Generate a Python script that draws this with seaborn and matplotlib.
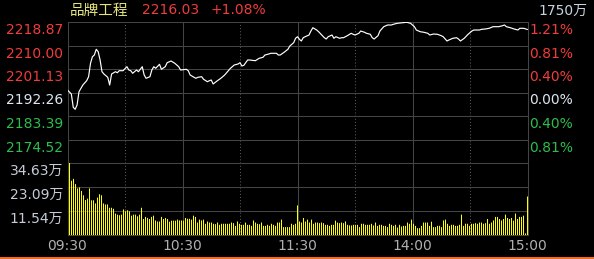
import numpy as np
import pandas as pd
import matplotlib
matplotlib.use("Agg")
import matplotlib.pyplot as plt
import matplotlib.transforms as mtransforms
from matplotlib.patches import Rectangle
import seaborn as sns

# ---------------- data ----------------
title_name = "品牌工程"
title_price = "2216.03"
title_change = "+1.08%"
total_volume_label = "1750万"

session_minutes = 240  # 09:30-11:30 + 13:00-15:00

price_minutes = [0, 2, 3, 4, 5, 6, 8, 10, 11, 12, 13, 14, 15, 16, 17, 18, 19, 21, 22, 23,
                 25, 26, 27, 29, 31, 32, 33, 34, 36, 37, 39, 40, 41, 43, 44, 45, 46, 48, 49, 51,
                 52, 54, 56, 58, 59, 62, 63, 64, 66, 67, 68, 70, 71, 73, 74, 75, 76, 78, 80, 82,
                 83, 85, 87, 89, 90, 91, 92, 94, 95, 98, 100, 102, 103, 105, 106, 109, 110, 111, 113, 115,
                 116, 118, 119, 120, 121, 122, 123, 124, 126, 127, 128, 130, 131, 133, 134, 135, 136, 138, 139, 140,
                 142, 143, 144, 146, 148, 149, 150, 152, 153, 155, 156, 158, 159, 160, 162, 163, 165, 167, 169, 170,
                 172, 175, 177, 179, 181, 182, 184, 186, 188, 189, 191, 193, 195, 196, 198, 199, 201, 203, 204, 205,
                 207, 209, 211, 212, 215, 216, 218, 220, 222, 223, 225, 227, 228, 229, 231, 233, 235, 236, 238, 240]

price_values = [2193.20, 2191.69, 2186.67, 2185.92, 2187.54, 2192.56, 2195.09, 2196.71, 2198.22, 2203.28,
                2205.77, 2206.41, 2208.57, 2207.66, 2204.53, 2200.11, 2199.24, 2198.00, 2195.09, 2199.24,
                2200.11, 2199.73, 2200.49, 2200.49, 2202.00, 2200.75, 2200.49, 2199.51, 2200.75, 2200.11,
                2202.00, 2198.87, 2197.62, 2198.22, 2200.75, 2202.00, 2201.39, 2202.90, 2201.02, 2202.00,
                2203.51, 2204.15, 2203.28, 2202.00, 2200.75, 2201.02, 2200.49, 2198.87, 2198.00, 2197.62,
                2198.00, 2198.22, 2197.24, 2196.34, 2196.71, 2196.98, 2195.47, 2196.60, 2197.62, 2198.87,
                2199.73, 2201.39, 2202.64, 2203.02, 2203.51, 2202.26, 2202.53, 2204.53, 2204.53, 2204.26,
                2205.17, 2205.55, 2206.41, 2206.79, 2207.06, 2207.06, 2206.41, 2206.41, 2207.43, 2208.57,
                2209.81, 2211.06, 2212.72, 2213.32, 2212.34, 2211.70, 2212.94, 2213.32, 2213.96, 2215.47,
                2216.72, 2215.85, 2215.21, 2213.70, 2212.94, 2212.45, 2213.32, 2213.96, 2212.72, 2213.32,
                2212.72, 2212.94, 2212.94, 2213.70, 2214.60, 2214.23, 2213.96, 2214.60, 2215.47, 2214.98,
                2214.60, 2214.23, 2212.94, 2212.45, 2213.70, 2215.47, 2217.10, 2217.74, 2217.74, 2218.00,
                2218.38, 2218.61, 2218.76, 2218.38, 2217.10, 2215.85, 2215.21, 2214.98, 2214.60, 2213.96,
                2214.34, 2214.23, 2213.70, 2213.32, 2211.70, 2212.08, 2212.72, 2212.94, 2212.45, 2211.70,
                2212.72, 2214.23, 2215.47, 2215.85, 2215.85, 2216.11, 2216.23, 2216.49, 2217.10, 2217.10,
                2217.10, 2217.47, 2217.74, 2217.10, 2216.72, 2216.23, 2215.85, 2216.49, 2216.49, 2216.03]

# per-minute volume, in 万
volume_values = [11.4, 34.63, 26.1, 27.0, 24.5, 22.4, 22.9, 21.2, 19.1, 16.8, 17.5, 22.4, 16.7, 16.7, 15.2,
                 18.0, 19.6, 19.1, 15.2, 14.7, 14.7, 13.1, 13.1, 12.6, 10.3, 9.8, 9.5, 9.8, 12.3, 11.4,
                 11.9, 11.4, 9.3, 9.8, 9.8, 9.0, 9.8, 13.1, 7.7, 8.7, 8.2, 7.7, 8.7, 9.3, 7.0,
                 6.5, 6.5, 8.7, 7.7, 8.2, 7.7, 6.4, 6.9, 6.9, 6.9, 7.4, 7.0, 7.0,
                 6.9, 8.2, 7.8, 7.8, 7.4, 9.3, 8.7, 6.0, 7.4, 7.0, 7.4, 5.4, 6.5, 6.0, 6.0,
                 5.4, 5.2, 6.0, 4.9, 5.4, 5.4, 5.4, 5.4, 5.4, 6.0, 5.7, 4.4, 6.5, 5.4, 4.9,
                 4.9, 6.0, 4.9, 4.9, 4.4, 7.0, 6.0, 5.4, 5.2, 6.0, 4.4, 4.4, 4.9, 4.4, 5.4,
                 4.9, 4.4, 6.0, 6.0, 7.4, 3.8, 3.8, 3.8, 3.8, 5.4, 4.9, 5.4, 14.2,
                 6.5, 6.0, 8.2, 6.5, 7.4, 6.0, 7.4, 5.4, 6.0, 6.0, 5.7, 6.0, 5.7, 4.9, 4.9,
                 4.4, 4.9, 4.9, 6.9, 6.0, 5.7, 6.0, 5.7, 6.5, 4.9, 4.6, 4.6, 4.9, 4.9, 4.9,
                 3.8, 5.4, 5.4, 4.9, 4.9, 4.9, 5.4, 4.6, 6.0, 4.4, 4.9, 4.9, 4.4, 4.4, 3.8,
                 5.4, 4.9, 4.4, 4.9, 3.6, 4.9, 4.1, 4.4, 4.4,
                 6.0, 5.4, 7.4, 5.4, 4.4, 3.3, 3.3, 4.4, 6.0, 6.0, 6.0, 4.4, 6.4, 3.8, 3.8,
                 4.4, 4.4, 3.8, 7.0, 7.4, 5.4, 4.4, 4.9, 4.9, 4.4, 4.4, 4.9, 9.8, 4.4, 5.4,
                 5.4, 4.4, 5.4, 5.4, 5.7, 5.4, 6.0, 6.0, 5.4, 5.7, 7.7, 5.4, 6.0, 7.0, 8.7,
                 8.7, 7.7, 7.0, 7.7, 9.8, 8.2, 7.7, 8.2, 6.9, 10.3, 7.7, 8.7, 8.7, 9.3, 0.8, 18.5]

price_top = 2218.87
price_bottom = 2165.65
price_levels = [2218.87, 2210.00, 2201.13, 2192.26, 2183.39, 2174.52]
price_level_labels = ["2218.87", "2210.00", "2201.13", "2192.26", "2183.39", "2174.52"]
pct_labels = ["1.21%", "0.81%", "0.40%", "0.00%", "0.40%", "0.81%"]
volume_top = 34.63
volume_levels = [34.63, 23.09, 11.54]
volume_level_labels = ["34.63万", "23.09万", "11.54万"]
time_ticks = [0, 60, 120, 180, 240]
time_labels = ["09:30", "10:30", "11:30", "14:00", "15:00"]
solid_vlines = [60, 120, 180]
dotted_vlines = [30, 90, 150, 210]

# ---------------- style ----------------
RED = "#f03c3c"
GREEN = "#2dbd4e"
NEUTRAL = "#dde6f0"
level_colors = [RED, RED, RED, NEUTRAL, GREEN, GREEN]
GRID = "#444444"
DOTS = "#5a5a5a"
VOLTXT = "#c6ccd6"
TIMETXT = "#b0b0b0"
BAR = "#ffff00"

sns.set_theme(style="dark", rc={"axes.facecolor": "black", "figure.facecolor": "black",
                                "savefig.facecolor": "black"})
plt.rcParams["font.family"] = ["DejaVu Sans", "Noto Sans CJK SC"]

W, H = 594, 259
X0 = 67.5  # left edge of plot area in pixels
fig = plt.figure(figsize=(W / 100, H / 100), dpi=100)
ax_p = fig.add_axes([X0 / W, (H - 163) / H, 460 / W, 141 / H])
ax_v = fig.add_axes([X0 / W, (H - 235) / H, 460 / W, 72 / H])

price_df = pd.DataFrame({"minute": price_minutes, "price": price_values})
sns.lineplot(data=price_df, x="minute", y="price", color="white", linewidth=0.85, ax=ax_p, zorder=5)

vol_df = pd.DataFrame({"minute": np.linspace(0, session_minutes, len(volume_values)),
                       "volume": volume_values})
sns.barplot(data=vol_df, x="minute", y="volume", native_scale=True, color=BAR,
            saturation=1, width=0.5, linewidth=0, errorbar=None, ax=ax_v,
            snap=False, zorder=5)
for bar in ax_v.patches:
    bar.set_facecolor(BAR)
    bar.set_edgecolor(BAR)
    bar.set_linewidth(0)

for ax in (ax_p, ax_v):
    ax.set_facecolor("black")
    ax.set_xlim(0, session_minutes)
    ax.set_xlabel("")
    ax.set_ylabel("")
    ax.set_xticks(solid_vlines)
    ax.set_xticks(dotted_vlines, minor=True)
    ax.grid(False)
    ax.grid(which="major", axis="both", color=GRID, linewidth=0.75, linestyle="-")
    ax.grid(which="minor", axis="x", color=DOTS, linewidth=0.75, linestyle=(0, (1, 2)))
    ax.tick_params(which="both", length=0, labelbottom=False, labelleft=False)
    for s in ax.spines.values():
        s.set_visible(True)
        s.set_color(GRID)
        s.set_linewidth(0.75)
    ax.set_axisbelow(True)

ax_p.set_ylim(price_bottom, price_top)
ax_p.set_yticks(price_levels[1:])
ax_v.set_ylim(0, volume_top)
ax_v.set_yticks(volume_levels[1:])

FS = 10
left_tr_p = mtransforms.offset_copy(ax_p.get_yaxis_transform(), fig=fig, x=-4.5, y=-1, units="dots")
right_tr_p = mtransforms.offset_copy(ax_p.get_yaxis_transform(), fig=fig, x=1.5, y=-1, units="dots")
for v, lab, pct, c in zip(price_levels, price_level_labels, pct_labels, level_colors):
    ax_p.text(0, v, lab, transform=left_tr_p, ha="right", va="top", color=c, fontsize=FS)
    ax_p.text(1, v, pct, transform=right_tr_p, ha="left", va="top", color=c, fontsize=FS)

left_tr_v = mtransforms.offset_copy(ax_v.get_yaxis_transform(), fig=fig, x=-4.5, y=-1, units="dots")
for v, lab in zip(volume_levels, volume_level_labels):
    ax_v.text(0, v, lab, transform=left_tr_v, ha="right", va="top", color=VOLTXT, fontsize=FS)

time_tr = mtransforms.offset_copy(ax_v.get_xaxis_transform(), fig=fig, x=-0.5, y=-11.5, units="dots")
for t, lab in zip(time_ticks, time_labels):
    ax_v.text(t, 0, lab, transform=time_tr, ha="center", va="center", color=TIMETXT, fontsize=FS)

ty = 1 - 10.5 / H
fig.text(70 / W, ty, title_name, color="#e4e47c", fontsize=10.5, ha="left", va="center")
fig.text(142 / W, ty, title_price, color=RED, fontsize=FS, ha="left", va="center")
fig.text(211 / W, ty, title_change, color=RED, fontsize=FS, ha="left", va="center")
fig.text(587 / W, 1 - 11 / H, total_volume_label, color="#c8d4e0", fontsize=FS, ha="right", va="center")

fig.patches.append(Rectangle((0, 0), 1, 1.6 / H, transform=fig.transFigure,
                             facecolor="#f26b1d", edgecolor="none"))

fig.savefig("out.png", dpi=100, facecolor="black")
